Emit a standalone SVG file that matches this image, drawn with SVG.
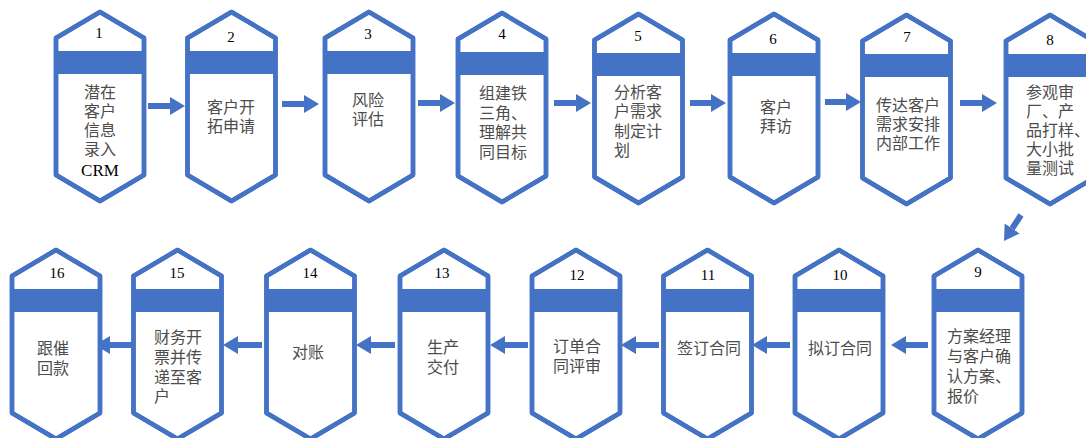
<svg xmlns="http://www.w3.org/2000/svg" width="1086" height="438" viewBox="0 0 1086 438">
<style>
.shape{fill:#fff;stroke:#4472C4;stroke-width:4.5;stroke-linejoin:round}
.band{fill:#4472C4}
.num{font-family:"Liberation Serif","Times New Roman",serif;font-size:15px;fill:#000;text-anchor:middle}
.lbl{font-family:"Noto Sans CJK SC","Noto Sans",sans-serif;font-size:16px;fill:#4d4d4d}
.m{text-anchor:middle}
.s{text-anchor:start}
.ser{font-family:"Liberation Serif","Times New Roman","Noto Sans CJK SC",serif}
.conn{stroke:#4472C4;stroke-width:6;fill:none;marker-end:url(#ah)}
</style>
<defs>
<marker id="ah" markerUnits="userSpaceOnUse" markerWidth="15" markerHeight="19" refX="0" refY="9" orient="auto" viewBox="0 0 15 18">
<path d="M0,0 L15,9 L0,18 Z" fill="#4472C4"/>
</marker>
<g id="node">
<path class="shape" d="M0,0 L44,26 L44,163 L0,189 L-44,163 L-44,26 Z"/>
<rect class="band" x="-44" y="39" width="88" height="23"/>
<path d="M0,0 L44,26 L44,163 L0,189 L-44,163 L-44,26 Z" fill="none" stroke="#4472C4" stroke-width="4.5" stroke-linejoin="round"/>
</g>
</defs>

<g id="connectors">
<line class="conn" x1="148" y1="106" x2="170" y2="106"/>
<line class="conn" x1="282" y1="104" x2="304" y2="104"/>
<line class="conn" x1="418" y1="103" x2="440" y2="103"/>
<line class="conn" x1="554" y1="103" x2="576" y2="103"/>
<line class="conn" x1="690" y1="103" x2="711" y2="103"/>
<line class="conn" x1="825" y1="102" x2="846" y2="102"/>
<line class="conn" x1="960" y1="103" x2="982" y2="103"/>
<line class="conn" x1="1021" y1="215" x2="1012.2" y2="228.5"/>
<line class="conn" x1="928" y1="345" x2="906" y2="345"/>
<line class="conn" x1="790" y1="345" x2="767" y2="345"/>
<line class="conn" x1="659" y1="345" x2="636" y2="345"/>
<line class="conn" x1="528" y1="345" x2="505" y2="345"/>
<line class="conn" x1="395" y1="345" x2="371" y2="345"/>
<line class="conn" x1="262" y1="345" x2="238" y2="345"/>
<line class="conn" x1="133" y1="345" x2="110" y2="345"/>
</g>

<g id="n1">
<use href="#node" x="100" y="12"/>
<text class="num" x="99" y="38">1</text>
<text class="lbl m" x="100"><tspan x="100" y="98">潜在</tspan><tspan x="100" y="117">客户</tspan><tspan x="100" y="136">信息</tspan><tspan x="100" y="155">录入</tspan></text>
<text class="lbl m ser" x="100" y="176" style="font-size:17px;fill:#000">CRM</text>
</g>
<g id="n2">
<use href="#node" x="231.5" y="12"/>
<text class="num" x="231" y="42">2</text>
<text class="lbl m"><tspan x="231" y="113">客户开</tspan><tspan x="231" y="132">拓申请</tspan></text>
</g>
<g id="n3">
<use href="#node" x="369" y="12"/>
<text class="num" x="368" y="39">3</text>
<text class="lbl m"><tspan x="368" y="106">风险</tspan><tspan x="368" y="125">评估</tspan></text>
</g>
<g id="n4">
<use href="#node" x="502" y="13"/>
<text class="num" x="502" y="39">4</text>
<text class="lbl m"><tspan x="503" y="99">组建铁</tspan><tspan x="503" y="118.5">三角、</tspan><tspan x="503" y="138">理解共</tspan><tspan x="503" y="157.5">同目标</tspan></text>
</g>
<g id="n5">
<use href="#node" x="638.5" y="14"/>
<text class="num" x="638" y="41">5</text>
<text class="lbl s"><tspan x="614" y="98">分析客</tspan><tspan x="614" y="117">户需求</tspan><tspan x="614" y="137">制定计</tspan><tspan x="614" y="156">划</tspan></text>
</g>
<g id="n6">
<use href="#node" x="774" y="14"/>
<text class="num" x="773" y="44">6</text>
<text class="lbl m"><tspan x="776" y="113">客户</tspan><tspan x="776" y="132">拜访</tspan></text>
</g>
<g id="n7">
<use href="#node" x="906.5" y="15"/>
<text class="num" x="907" y="42">7</text>
<text class="lbl m"><tspan x="908" y="111">传达客户</tspan><tspan x="908" y="130">需求安排</tspan><tspan x="908" y="149">内部工作</tspan></text>
</g>
<g id="n8">
<use href="#node" x="1050" y="15"/>
<text class="num" x="1050" y="45">8</text>
<text class="lbl s"><tspan x="1026" y="98">参观审</tspan><tspan x="1026" y="117">厂、产</tspan><tspan x="1026" y="136">品打样、</tspan><tspan x="1026" y="155">大小批</tspan><tspan x="1026" y="174">量测试</tspan></text>
</g>

<g id="n9">
<use href="#node" x="978" y="250"/>
<text class="num" x="978" y="277">9</text>
<text class="lbl s"><tspan x="947" y="342">方案经理</tspan><tspan x="947" y="362">与客户确</tspan><tspan x="947" y="382">认方案、</tspan><tspan x="947" y="402">报价</tspan></text>
</g>
<g id="n10">
<use href="#node" x="839" y="250"/>
<text class="num" x="840" y="280">10</text>
<text class="lbl m" x="840" y="354">拟订合同</text>
</g>
<g id="n11">
<use href="#node" x="707.5" y="250"/>
<text class="num" x="708" y="280">11</text>
<text class="lbl m" x="709" y="354">签订合同</text>
</g>
<g id="n12">
<use href="#node" x="576" y="250"/>
<text class="num" x="577" y="280">12</text>
<text class="lbl m"><tspan x="577" y="352">订单合</tspan><tspan x="577" y="372">同评审</tspan></text>
</g>
<g id="n13">
<use href="#node" x="444" y="250"/>
<text class="num" x="442" y="278">13</text>
<text class="lbl m"><tspan x="443" y="353">生产</tspan><tspan x="443" y="373">交付</tspan></text>
</g>
<g id="n14">
<use href="#node" x="310.5" y="250"/>
<text class="num" x="310" y="278">14</text>
<text class="lbl m" x="308" y="358">对账</text>
</g>
<g id="n15">
<use href="#node" x="177.5" y="250"/>
<text class="num" x="177" y="278">15</text>
<text class="lbl s"><tspan x="154" y="343">财务开</tspan><tspan x="154" y="363">票并传</tspan><tspan x="154" y="383">递至客</tspan><tspan x="154" y="402">户</tspan></text>
</g>
<g id="n16">
<use href="#node" x="56" y="250"/>
<text class="num" x="57" y="278">16</text>
<text class="lbl m"><tspan x="53" y="354">跟催</tspan><tspan x="53" y="374">回款</tspan></text>
</g>
</svg>
